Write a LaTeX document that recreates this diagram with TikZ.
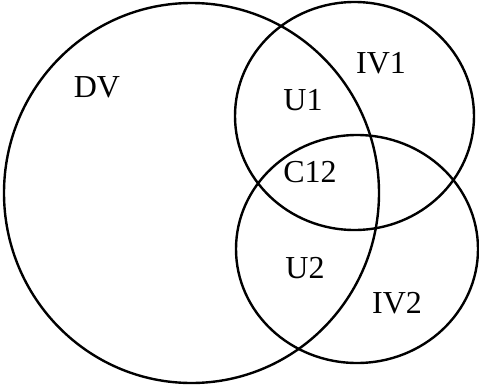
\documentclass[tikz,border=0pt]{standalone}
\usepackage{fontspec}
\setmainfont{Liberation Serif}
\begin{document}
\begin{tikzpicture}[x=1pt,y=-1pt,
  ring/.style={draw=black,line width=2.4pt},
  lbl/.style={font=\fontsize{32}{32}\selectfont,inner sep=0pt,anchor=base}]
\useasboundingbox (0,0) rectangle (479,386);
\draw[ring] (191.5,193) ellipse [x radius=187.5,y radius=190];
\draw[ring] (354.5,116) ellipse [x radius=119.5,y radius=114];
\draw[ring] (357,249) ellipse [x radius=121,y radius=114];
\node[lbl] (dv) at (97,97) {DV};
\node[lbl] (iv1) at (381,73) {IV1};
\node[lbl] (u1) at (303,110) {U1};
\node[lbl] (c12) at (310,182) {C12};
\node[lbl] (u2) at (305,278) {U2};
\node[lbl] (iv2) at (397,313) {IV2};
\end{tikzpicture}
\end{document}
